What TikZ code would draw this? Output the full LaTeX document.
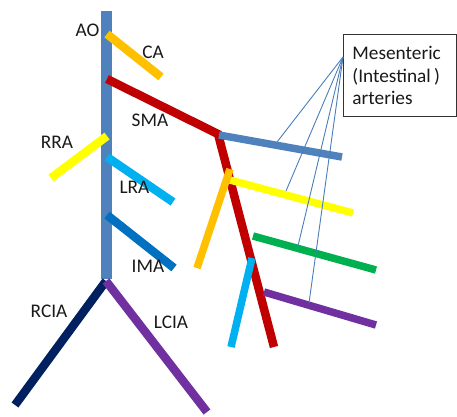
\documentclass[tikz,border=0pt]{standalone}
\usepackage{fontspec}
\setmainfont{Carlito}
\definecolor{aorta}{HTML}{4F81BD}
\definecolor{caor}{HTML}{FFC000}
\definecolor{smared}{HTML}{C00000}
\definecolor{rrayel}{HTML}{FFFF00}
\definecolor{lracyan}{HTML}{00B0F0}
\definecolor{imablue}{HTML}{0070C0}
\definecolor{rcianavy}{HTML}{002060}
\definecolor{lciapur}{HTML}{7030A0}
\definecolor{mgreen}{HTML}{00B050}
\definecolor{thinblue}{HTML}{4A7EBB}
\tikzset{
  vessel/.style={line width=8.5pt, line cap=butt},
  bigvessel/.style={line width=11pt, line cap=butt},
  mvessel/.style={line width=7.5pt, line cap=butt},
  lbl/.style={anchor=base, inner sep=0pt, font=\fontsize{19.3}{22.5}\selectfont, text=black!90},
  pointer/.style={thinblue, line width=0.9pt},
}
\begin{document}
\begin{tikzpicture}[x=1pt,y=-1pt]
\useasboundingbox (0,0) rectangle (457,416);
% coordinates
\coordinate (aoT) at (106,11);
\coordinate (aoB) at (106,279);
\coordinate (caS) at (107,34);
\coordinate (caE) at (161,77);
\coordinate (smaS) at (107,79);
\coordinate (smaJ) at (218,134);
\coordinate (smaE) at (274,347);
\coordinate (rraS) at (107,136);
\coordinate (rraE) at (51,178);
\coordinate (lraS) at (107,157);
\coordinate (lraE) at (173,202);
\coordinate (imaS) at (107,215);
\coordinate (imaE) at (174,268);
\coordinate (ciaS) at (106,281);
\coordinate (rciaE) at (15,405);
\coordinate (lciaE) at (207,412);
\coordinate (m1S) at (219,135);
\coordinate (m1E) at (342,157);
\coordinate (m2S) at (230,180);
\coordinate (m2E) at (353,213);
\coordinate (orS) at (230,169);
\coordinate (orE) at (197,268);
\coordinate (m3S) at (253,236);
\coordinate (m3E) at (376,270);
\coordinate (cyS) at (252,258);
\coordinate (cyE) at (231,347);
\coordinate (m4S) at (264,292);
\coordinate (m4E) at (376,325);
\coordinate (p1) at (277,142);
\coordinate (p2) at (286,191);
\coordinate (p3) at (298,246);
\coordinate (p4) at (309,303);
% aorta
\draw[bigvessel, aorta] (aoT) -- (aoB);
% branches
\draw[vessel, caor] (caS) -- (caE);
\draw[vessel, smared, line join=miter] (smaS) -- (smaJ) -- (smaE);
\draw[vessel, rrayel] (rraS) -- (rraE);
\draw[vessel, lracyan] (lraS) -- (lraE);
\draw[vessel, imablue] (imaS) -- (imaE);
\draw[vessel, rcianavy] (ciaS) -- (rciaE);
\draw[vessel, lciapur] (ciaS) -- (lciaE);
% mesenteric branches
\draw[mvessel, aorta] (m1S) -- (m1E);
\draw[mvessel, rrayel] (m2S) -- (m2E);
\draw[mvessel, caor] (orS) -- (orE);
\draw[mvessel, mgreen] (m3S) -- (m3E);
\draw[mvessel, lracyan] (cyS) -- (cyE);
\draw[mvessel, lciapur] (m4S) -- (m4E);
% labels
\node[lbl] (lAO) at (87.5,36) {AO};
\node[lbl] (lCA) at (153,58) {CA};
\node[lbl] (lSMA) at (150,126) {SMA};
\node[lbl] (lRRA) at (57,148) {RRA};
\node[lbl] (lLRA) at (134.5,193) {LRA};
\node[lbl] (lIMA) at (148,272) {IMA};
\node[lbl] (lRCIA) at (49,317) {RCIA};
\node[lbl] (lLCIA) at (171,328) {LCIA};
% box
\node[draw=black!80, line width=0.9pt, minimum width=113pt, minimum height=82pt, anchor=north west,
  align=left, text width=95pt, inner xsep=9pt, inner ysep=0pt,
  font=\fontsize{19.3}{22.5}\selectfont, text=black!90] (box) at (343,34) {Mesenteric\\(Intestinal\,)\\arteries};
\coordinate (bp) at ([yshift=-23pt]box.north west);
\draw[pointer] (bp) -- (p1);
\draw[pointer] (bp) -- (p2);
\draw[pointer] (bp) -- (p3);
\draw[pointer] (bp) -- (p4);
\end{tikzpicture}
\end{document}
